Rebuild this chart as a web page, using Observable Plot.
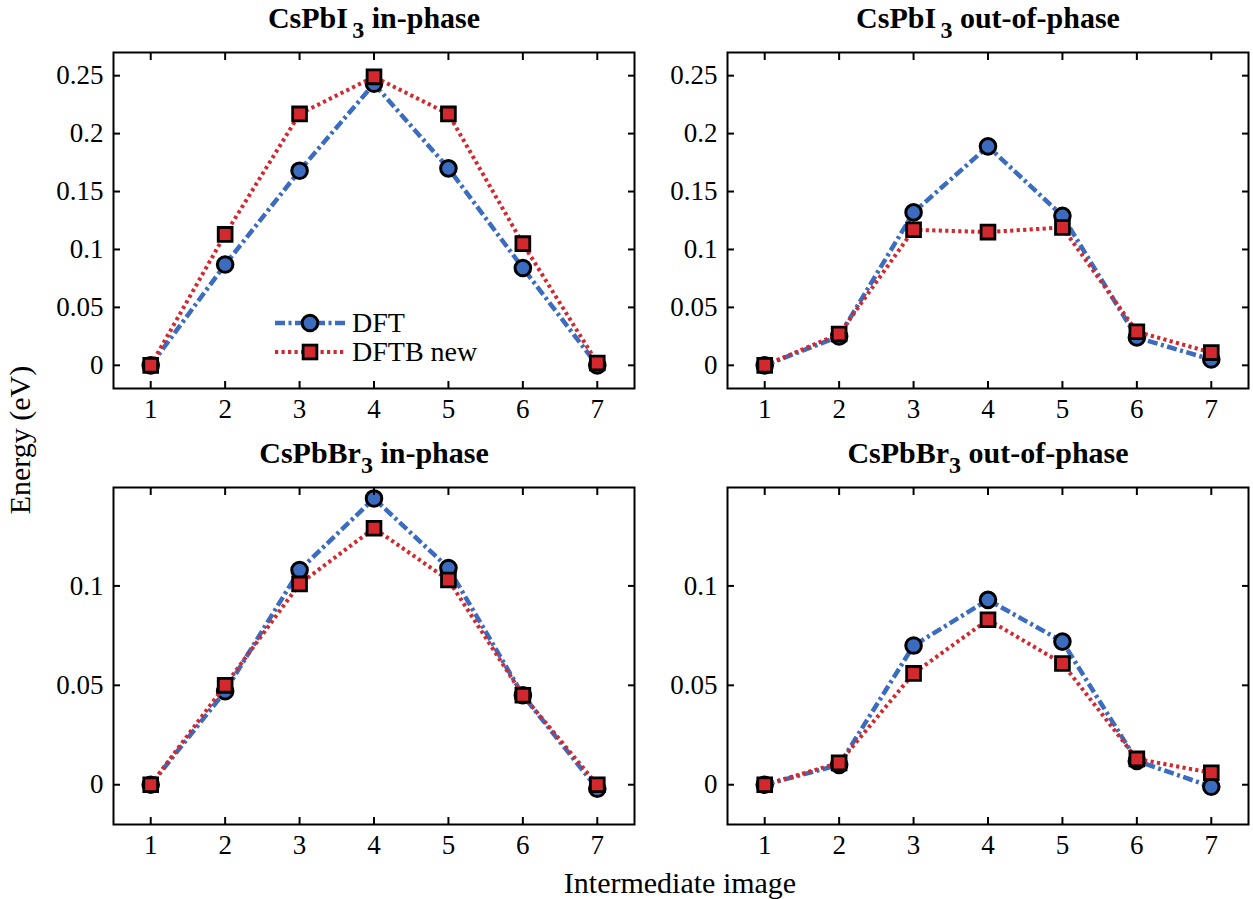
<!DOCTYPE html>
<html>
<head>
<meta charset="utf-8">
<script src="https://cdn.jsdelivr.net/npm/d3@7"></script>
<script src="https://cdn.jsdelivr.net/npm/@observablehq/plot@0.6"></script>
<style>
  html, body { margin: 0; padding: 0; background: #fff; }
  #root { position: relative; width: 1253px; height: 899px; overflow: hidden;
          font-family: "Liberation Serif", "Times New Roman", serif; color: #000; }
  .ptitle { position: absolute; font-weight: bold; font-size: 30px; line-height: 1;
            white-space: nowrap; text-align: center; transform: translateX(-50%); }
  .ptitle sub { font-size: 0.8em; vertical-align: -0.4em; line-height: 0; }
  .panel { position: absolute; }
  .axtitle { position: absolute; font-size: 30px; line-height: 1; white-space: nowrap; }
  .legend { position: absolute; font-size: 28px; line-height: 1; }
  .legend .row { position: absolute; display: flex; align-items: center; white-space: nowrap; }
  .legend svg { display: block; margin-right: 6px; }
</style>
</head>
<body>
<div id="root"></div>
<script>
// ---------- data ----------
const images = [1, 2, 3, 4, 5, 6, 7];
const xTickLabels = ["1", "2", "3", "4", "5", "6", "7"];

const iodideInDFT   = [0, 0.087, 0.168, 0.243, 0.170, 0.084, 0.000];
const iodideInDFTB  = [0, 0.113, 0.217, 0.249, 0.217, 0.105, 0.002];
const iodideOutDFT  = [0, 0.025, 0.132, 0.189, 0.129, 0.024, 0.005];
const iodideOutDFTB = [0, 0.027, 0.117, 0.115, 0.119, 0.029, 0.011];
const bromideInDFT   = [0, 0.047, 0.108, 0.144, 0.109, 0.045, -0.002];
const bromideInDFTB  = [0, 0.050, 0.101, 0.129, 0.103, 0.045, 0.000];
const bromideOutDFT  = [0, 0.010, 0.070, 0.093, 0.072, 0.012, -0.001];
const bromideOutDFTB = [0, 0.011, 0.056, 0.083, 0.061, 0.013, 0.006];

const topYTicks = [0, 0.05, 0.1, 0.15, 0.2, 0.25];
const topYTickLabels = ["0", "0.05", "0.1", "0.15", "0.2", "0.25"];
const bottomYTicks = [0, 0.05, 0.1];
const bottomYTickLabels = ["0", "0.05", "0.1"];

const seriesNames = ["DFT", "DFTB new"];
const titles = [
  'CsPbI<sub style="margin-left:0.18em">3</sub> in-phase',
  'CsPbI<sub style="margin-left:0.18em">3</sub> out-of-phase',
  'CsPbBr<sub>3</sub> in-phase',
  'CsPbBr<sub>3</sub> out-of-phase'
];
const xTitle = "Intermediate image";
const yTitle = "Energy (eV)";

// ---------- styles ----------
const BLUE = "#3b6cbf";
const RED = "#d3282e";
const BLUE_DASH = "10,3.5,3,3.5";
const RED_DASH = "3.2,3.3";
const FONT = '"Liberation Serif", "Times New Roman", serif';

const root = document.getElementById("root");

function panel({dft, dftb, yDomain, yTicks, yLabels, left, top, frameH, title, titleTop, titleCenter}) {
  const ml = 113, mr = 5, mt = 12, mb = 46, fw = 521;
  const data = images.map((x, i) => ({x, dft: dft[i], dftb: dftb[i]}));
  const xFmt = d => xTickLabels[images.indexOf(d)];
  const yFmt = d => yLabels[yTicks.indexOf(d)];
  const svg = Plot.plot({
    width: ml + fw + mr,
    height: mt + frameH + mb,
    marginLeft: ml, marginRight: mr, marginTop: mt, marginBottom: mb,
    x: {domain: [0.5, 7.5], label: null},
    y: {domain: yDomain, label: null},
    style: {fontFamily: FONT, fontSize: "27px", color: "#000", background: "transparent", overflow: "visible"},
    marks: [
      Plot.line(data, {x: "x", y: "dft", stroke: BLUE, strokeWidth: 4.5, strokeDasharray: BLUE_DASH, strokeLinecap: "butt"}),
      Plot.dot(data, {x: "x", y: "dft", r: 7.8, fill: BLUE, stroke: "#000", strokeWidth: 3}),
      Plot.line(data, {x: "x", y: "dftb", stroke: RED, strokeWidth: 4, strokeDasharray: RED_DASH, strokeLinecap: "butt"}),
      Plot.dot(data, {x: "x", y: "dftb", symbol: "square", r: 7.8, fill: RED, stroke: "#000", strokeWidth: 2.8}),
      Plot.axisX(images, {anchor: "bottom", tickSize: -7, tickPadding: 17, strokeWidth: 2, tickFormat: xFmt, label: null, fontSize: 27}),
      Plot.axisX(images, {anchor: "top", tickSize: -7, strokeWidth: 2, tickFormat: () => "", label: null}),
      Plot.axisY(yTicks, {anchor: "left", tickSize: -7, tickPadding: 17, strokeWidth: 2, tickFormat: yFmt, label: null, fontSize: 27}),
      Plot.axisY(yTicks, {anchor: "right", tickSize: -7, strokeWidth: 2, tickFormat: () => "", label: null}),
      Plot.frame({stroke: "#000", strokeWidth: 2})
    ]
  });
  const wrap = document.createElement("div");
  wrap.className = "panel";
  wrap.style.left = left + "px";
  wrap.style.top = top + "px";
  wrap.appendChild(svg);
  root.appendChild(wrap);

  const t = document.createElement("div");
  t.className = "ptitle";
  t.innerHTML = title;
  t.style.left = titleCenter + "px";
  t.style.top = titleTop + "px";
  root.appendChild(t);
}

panel({dft: iodideInDFT, dftb: iodideInDFTB, yDomain: [-0.02, 0.27], yTicks: topYTicks, yLabels: topYTickLabels,
       left: 0, top: 40, frameH: 336, title: titles[0], titleTop: 3, titleCenter: 374});
panel({dft: iodideOutDFT, dftb: iodideOutDFTB, yDomain: [-0.02, 0.27], yTicks: topYTicks, yLabels: topYTickLabels,
       left: 614, top: 40, frameH: 336, title: titles[1], titleTop: 3, titleCenter: 988});
panel({dft: bromideInDFT, dftb: bromideInDFTB, yDomain: [-0.02, 0.1495], yTicks: bottomYTicks, yLabels: bottomYTickLabels,
       left: 0, top: 475, frameH: 337, title: titles[2], titleTop: 438, titleCenter: 374});
panel({dft: bromideOutDFT, dftb: bromideOutDFTB, yDomain: [-0.02, 0.1495], yTicks: bottomYTicks, yLabels: bottomYTickLabels,
       left: 614, top: 475, frameH: 337, title: titles[3], titleTop: 438, titleCenter: 988});

// ---------- legend (top-left panel) ----------
const legend = document.createElement("div");
legend.className = "legend";
legend.style.left = "275px";
legend.style.top = "308px";
root.appendChild(legend);
const legendItems = [
  {name: seriesNames[0], color: BLUE, dash: BLUE_DASH, width: 4.5, shape: "circle"},
  {name: seriesNames[1], color: RED, dash: RED_DASH, width: 4, shape: "square"}
];
legendItems.forEach((it, i) => {
  const row = document.createElement("div");
  row.className = "row";
  row.style.top = (i * 29) + "px";
  row.style.height = "30px";
  const s = d3.create("svg").attr("width", 71).attr("height", 30);
  s.append("line").attr("x1", 0).attr("x2", 71).attr("y1", 15).attr("y2", 15)
    .attr("stroke", it.color).attr("stroke-width", it.width).attr("stroke-dasharray", it.dash);
  if (it.shape === "circle") {
    s.append("circle").attr("cx", 35).attr("cy", 15).attr("r", 7.8)
      .attr("fill", it.color).attr("stroke", "#000").attr("stroke-width", 3);
  } else {
    s.append("rect").attr("x", 35 - 6.9).attr("y", 15 - 6.9).attr("width", 13.8).attr("height", 13.8)
      .attr("fill", it.color).attr("stroke", "#000").attr("stroke-width", 2.8);
  }
  row.appendChild(s.node());
  const lab = document.createElement("span");
  lab.textContent = it.name;
  row.appendChild(lab);
  legend.appendChild(row);
});

// ---------- axis titles ----------
const xt = document.createElement("div");
xt.className = "axtitle";
xt.textContent = xTitle;
xt.style.left = "680px";
xt.style.top = "868px";
xt.style.transform = "translateX(-50%)";
root.appendChild(xt);

const yt = document.createElement("div");
yt.className = "axtitle";
yt.textContent = yTitle;
yt.style.left = "20px";
yt.style.top = "440px";
yt.style.transform = "translate(-50%, -50%) rotate(-90deg)";
root.appendChild(yt);
</script>
</body>
</html>
